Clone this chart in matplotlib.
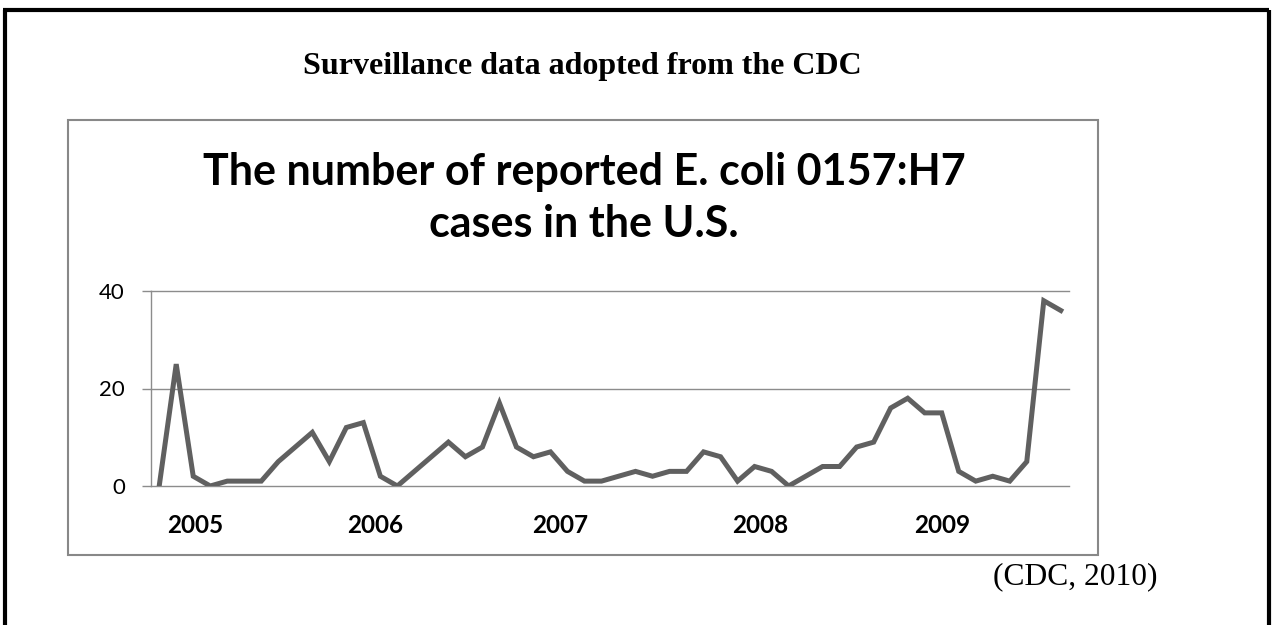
import matplotlib
matplotlib.use("Agg")
import matplotlib.pyplot as plt
from matplotlib.patches import Rectangle
from matplotlib.lines import Line2D

# reported E. coli O157:H7 cases, one value per reporting period
cases = [0, 25, 2, 0, 1, 1, 1, 5, 8, 11, 5, 12, 13, 2, 0, 3, 6, 9, 6, 8,
         17, 8, 6, 7, 3, 1, 1, 2, 3, 2, 3, 3, 7, 6, 1, 4, 3, 0, 2, 4,
         4, 8, 9, 16, 18, 15, 15, 3, 1, 2, 1, 5, 38, 36]
year_labels = ["2005", "2006", "2007", "2008", "2009"]
year_label_pos = [2.1, 12.7, 23.6, 35.3, 46.0]
y_ticks = [0, 20, 40]

W, H = 1272, 625
fig = plt.figure(figsize=(W / 100, H / 100), dpi=100)

def fx(px):
    return px / W

def fy(py):
    return 1 - py / H

# outer slide frame (black, open at the bottom)
frame_kw = dict(color="black", lw=3.0, transform=fig.transFigure, solid_capstyle="butt")
fig.add_artist(Line2D([fx(5), fx(5)], [fy(9.5), 0], **frame_kw))
fig.add_artist(Line2D([fx(3.5), fx(1269)], [fy(9.5), fy(9.5)], **frame_kw))
fig.add_artist(Line2D([fx(1269), fx(1269)], [fy(9.5), 0], **frame_kw))

# chart box (gray)
fig.add_artist(Rectangle((fx(68.3), fy(555)), fx(1097.7) - fx(68.3), fy(120) - fy(555),
                         transform=fig.transFigure, fill=False, ec="#888888", lw=1.5))

fig.text(fx(582), fy(74), "Surveillance data adopted from the CDC", ha="center", va="baseline",
         fontsize=23, fontweight="bold", family="Liberation Serif")

fig.text(fx(584), fy(185), "The number of reported E. coli 0157:H7", ha="center", va="baseline",
         fontsize=31, fontweight="bold", family="Lato")
fig.text(fx(584), fy(237), "cases in the U.S.", ha="center", va="baseline",
         fontsize=31, fontweight="bold", family="Lato")

fig.text(fx(1075), fy(577), "(CDC, 2010)", ha="center", va="center",
         fontsize=22.7, family="Liberation Serif")

ax = fig.add_axes([fx(150.7), fy(486), fx(1069.3) - fx(150.7), fy(291) - fy(486)])
ax.plot(range(len(cases)), cases, color="#606060", lw=3.6, solid_joinstyle="miter", zorder=3)

ax.set_xlim(-0.5, len(cases) - 0.5)
ax.set_ylim(0, 40)
ax.set_yticks(y_ticks)
ax.grid(axis="y", color="#8c8c8c", lw=1.0)
for gl in ax.get_ygridlines():
    gl.set_clip_on(False)
for s in ["top", "right", "bottom"]:
    ax.spines[s].set_visible(False)
ax.spines["left"].set_color("#8c8c8c")
ax.spines["left"].set_linewidth(1.0)
ax.tick_params(axis="y", length=6.5, width=1.0, color="#8c8c8c", pad=12, labelsize=16)
for lab in ax.get_yticklabels():
    lab.set_family("Lato")

ax.set_xticks(year_label_pos)
ax.set_xticklabels(year_labels, fontsize=17.5, fontweight="bold", family="Lato")
ax.tick_params(axis="x", length=0, pad=20)

fig.savefig("out.png", dpi=100)
